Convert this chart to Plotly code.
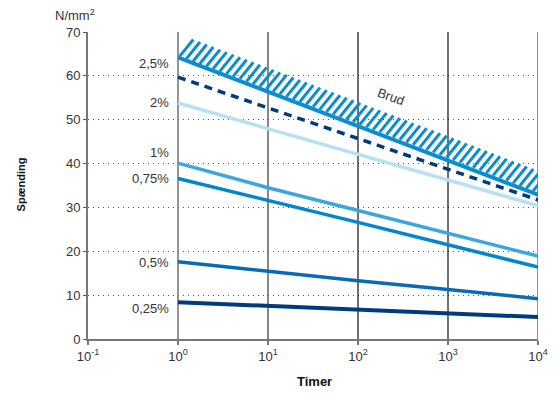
import plotly.graph_objects as go
import numpy as np

# ---- data ----
hours = [1, 10, 100, 1000, 10000]
brud = [64.2, 56.4, 48.6, 40.8, 32.9]
s_2_5 = [59.7, 52.7, 45.7, 38.7, 31.7]
s_2 = [53.8, 47.9, 42.1, 36.2, 30.4]
s_1 = [40.1, 34.5, 29.3, 24.1, 18.9]
s_0_75 = [36.6, 31.7, 26.6, 21.5, 16.4]
s_0_5 = [17.6, 15.4, 13.3, 11.3, 9.2]
s_0_25 = [8.4, 7.5, 6.6, 5.8, 5.0]
labels = ["2,5%", "2%", "1%", "0,75%", "0,5%", "0,25%"]
x_ticks = [0.1, 1, 10, 100, 1000, 10000]
x_ticktext = ["10<sup>-1</sup>", "10<sup>0</sup>", "10<sup>1</sup>",
              "10<sup>2</sup>", "10<sup>3</sup>", "10<sup>4</sup>"]
y_ticks = [0, 10, 20, 30, 40, 50, 60, 70]

FONT = "Liberation Sans, Arial, Helvetica, sans-serif"
fig = go.Figure()

# vertical decade lines
grid_groups = [([1, 10000], "#7a7a7a", 1.6), ([10], "#555555", 1.4), ([100, 1000], "#222222", 1.3)]
for xs, col, w in grid_groups:
    gx, gy = [], []
    for v in xs:
        gx += [v, v, None]
        gy += [0, 70, None]
    fig.add_trace(go.Scatter(x=gx, y=gy, mode="lines", line=dict(color=col, width=w),
                             hoverinfo="skip", showlegend=False))

# hatching above the "Brud" line (decoration derived from brud data)
lx = np.log10(hours)
hx, hy = [], []
n = 55
for t in np.linspace(0.0, 4.0, n):
    b = float(np.interp(t, lx, brud))
    hx += [10 ** (t + 0.02), 10 ** (t + 0.17), None]
    hy += [b + 0.3, b + 4.1, None]
fig.add_trace(go.Scatter(x=hx, y=hy, mode="lines", line=dict(color="#0b8dcf", width=3),
                         hoverinfo="skip", showlegend=False))

series = [
    (brud, "#0b8dcf", 4, "solid"),
    (s_2, "#b7dff6", 3.5, "solid"),
    (s_2_5, "#003b7e", 3.5, "8px,6px"),
    (s_1, "#3ba6e0", 3.5, "solid"),
    (s_0_75, "#0286cc", 3.5, "solid"),
    (s_0_5, "#0a6bb5", 3.5, "solid"),
    (s_0_25, "#003b7e", 4, "solid"),
]
for ys, col, w, dash in series:
    fig.add_trace(go.Scatter(x=hours, y=ys, mode="lines",
                             line=dict(color=col, width=w, dash=dash),
                             hoverinfo="skip", showlegend=False))

# series labels at left end
label_src = [s_2_5, s_2, s_1, s_0_75, s_0_5, s_0_25]
label_shift = [14, 1, 11, 0, -1, -6]
annotations = []
for lab, src, sh in zip(labels, label_src, label_shift):
    annotations.append(dict(x=0, y=src[0], xref="x", yref="y", text=lab, showarrow=False,
                            xanchor="right", yanchor="middle", xshift=-7, yshift=sh,
                            font=dict(family=FONT, size=13, color="#333333")))
annotations.append(dict(x=2.36, y=55.2, xref="x", yref="y", text="Brud", showarrow=False,
                        textangle=20, font=dict(family=FONT, size=13, color="#333333")))
annotations.append(dict(x=-0.028, y=1.057, xref="paper", yref="paper", text="N/mm<sup>2</sup>",
                        showarrow=False, xanchor="center", yanchor="middle",
                        font=dict(family=FONT, size=13, color="#333333")))
annotations.append(dict(x=-0.150, y=0.502, xref="paper", yref="paper", text="<b>Spænding</b>",
                        showarrow=False, textangle=-90, xanchor="center", yanchor="middle",
                        font=dict(family=FONT, size=11, color="#111111")))
annotations.append(dict(x=0.503, y=-0.140, xref="paper", yref="paper", text="<b>Timer</b>",
                        showarrow=False, xanchor="center", yanchor="middle",
                        font=dict(family=FONT, size=13, color="#111111")))

fig.update_layout(
    width=560, height=396,
    margin=dict(l=88, r=13, t=32, b=57),
    paper_bgcolor="white", plot_bgcolor="white",
    showlegend=False,
    annotations=annotations,
    font=dict(family=FONT, size=13, color="#333333"),
)
fig.update_xaxes(type="log", range=[-1, 4], tickvals=x_ticks, ticktext=x_ticktext,
                 showgrid=False, zeroline=False, showline=True, linecolor="#777777", linewidth=2,
                 ticks="outside", ticklen=4, tickcolor="#777777", tickwidth=1.5,
                 tickfont=dict(family=FONT, size=13, color="#333333"))
fig.update_yaxes(range=[0, 70], tickvals=y_ticks, showgrid=True, gridcolor="#555555",
                 gridwidth=1, griddash="1px,4px", zeroline=False, showline=True,
                 linecolor="#777777", linewidth=2, ticks="outside", ticklen=3,
                 tickcolor="#555555", tickfont=dict(family=FONT, size=13, color="#333333"))

fig.write_html("out.html", config={"displayModeBar": False})
